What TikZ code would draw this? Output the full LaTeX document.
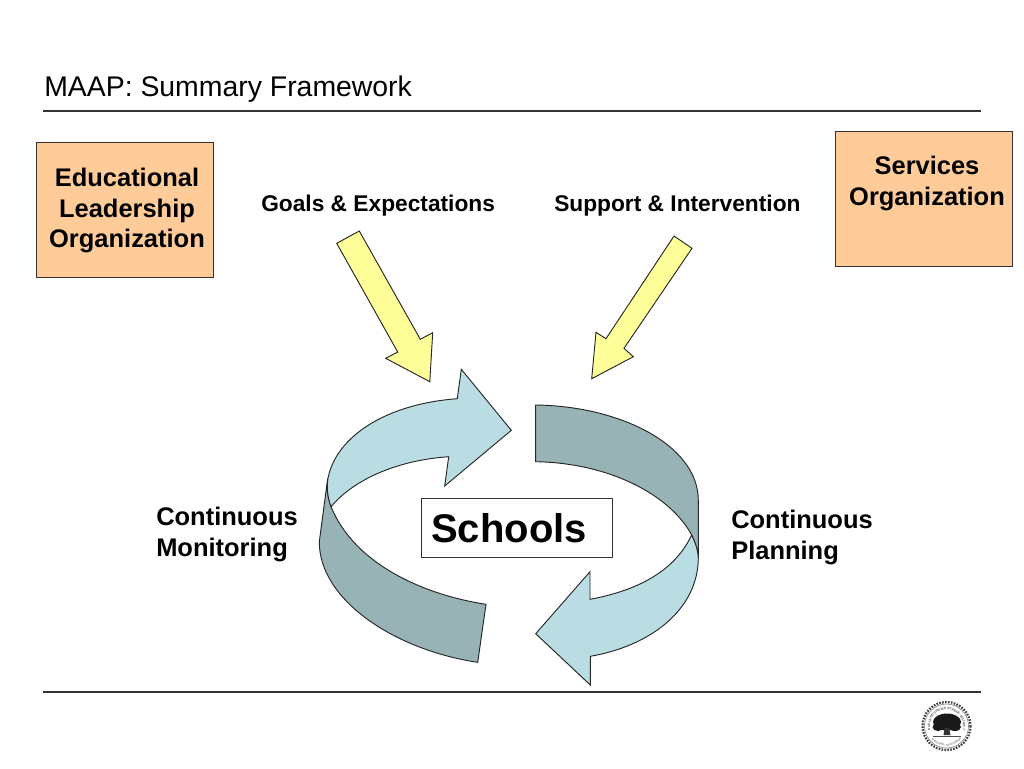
\documentclass[tikz,border=0pt]{standalone}
\usepackage{fontspec}
\setmainfont{Liberation Sans}
\usetikzlibrary{decorations.text}
\newdimen\px \px=0.75pt
\newcommand{\fsz}[1]{\fontsize{#1}{#1}\selectfont}
\definecolor{orgfill}{HTML}{FFCC99}
\definecolor{arrowyellow}{HTML}{FFFF99}
\definecolor{lightteal}{HTML}{B9DDE3}
\definecolor{darkteal}{HTML}{97B3B6}
\definecolor{rulegray}{HTML}{333333}
\tikzset{
  x=0.75pt,y=-0.75pt,
  orgbox/.style={draw=rulegray,line width=0.7pt,fill=orgfill,rectangle,inner sep=0pt,minimum width=177\px,minimum height=135\px},
  orglabel/.style={inner sep=0pt,align=center,font=\fontsize{19.1}{23.1}\selectfont\bfseries,text=black},
  keylabel/.style={inner sep=0pt,anchor=base west,font=\fsz{17.05}\bfseries,text=black},
  looplabel/.style={inner sep=0pt,anchor=base west,font=\fsz{19.1}\bfseries,text=black},
  yellowarrow/.style={draw=black!85,line width=0.7pt,fill=arrowyellow,line join=miter},
  lightpart/.style={draw=black!85,line width=0.7pt,fill=lightteal,line join=miter},
  darkpart/.style={draw=black!85,line width=0.7pt,fill=darkteal,line join=miter},
  rulestyle/.style={draw=rulegray,line width=0.9pt},
}
\begin{document}
\begin{tikzpicture}
\useasboundingbox (0,0) rectangle (1024,768);
\fill[white] (0,0) rectangle (1024,768);
% title and rules
\node[inner sep=0pt,anchor=base west,font=\fsz{21.3}] (title) at (44,96) {MAAP: Summary Framework};
\coordinate (tl) at (43,111); \coordinate (tr) at (981,111);
\coordinate (bl) at (43,692); \coordinate (br) at (981,692);
\draw[rulestyle] (tl) -- (tr);
\draw[rulestyle] (bl) -- (br);
% organisation boxes
\node[orgbox] (edu) at (124.5,209.5) {};
\node[orgbox] (svc) at (923.5,198.5) {};
\node[orglabel] (edulabel) at (127,210.5) {Educational\\Leadership\\Organization};
\node[orglabel] (svclabel) at (927,183.5) {Services\\Organization};
% top labels
\node[keylabel] (goals) at (261,211.5) {Goals \& Expectations};
\node[keylabel] (support) at (554,211.5) {Support \& Intervention};
% yellow arrows
\draw[yellowarrow] (336.7,243.3) -- (359.3,231) -- (420.3,339.3) -- (432.7,332.7) -- (429.8,381.7) -- (385.7,358.3) -- (397.7,352) -- cycle;
\draw[yellowarrow] (674,236) -- (692,248.3) -- (624,348.3) -- (633.3,356.7) -- (591.7,378.7) -- (596,332.3) -- (606,338.7) -- cycle;
% left loop
\draw[darkpart] (327.7,478.3) -- (319.3,541.7) .. controls (319,600) and (395,650) .. (477.7,662.3) -- (486,604.3) .. controls (425,595) and (355,565) .. (331,506.7) .. controls (328,498) and (326,488) .. cycle;
\draw[lightpart] (457.3,398.7) -- (461.3,369.3) -- (511.3,430.3) -- (444.7,486) -- (448.7,456.7) .. controls (400,460) and (355,478) .. (331,506.7) .. controls (328,498) and (326,488) .. (328.3,476.7) .. controls (337,437) and (385,404) .. cycle;
% right loop
\draw[darkpart] (535.7,405) .. controls (620,406) and (698,445) .. (698.3,500) -- (698.3,558) .. controls (698,550) and (695,542) .. (691.7,535) .. controls (670,495) and (610,463) .. (535.7,461.7) -- cycle;
\draw[lightpart] (590.3,656.3) -- (590.3,685) -- (535.7,633.7) -- (590,571.7) -- (590,599.3) .. controls (640,590) and (675,570) .. (691.7,535) .. controls (695,542) and (698,550) .. (698.3,558) .. controls (698,610) and (650,646) .. cycle;
% loop labels and centre
\node[looplabel] (mon1) at (156,525) {Continuous};
\node[looplabel] (mon2) at (156,556) {Monitoring};
\node[looplabel] (plan1) at (731,528) {Continuous};
\node[looplabel] (plan2) at (731,559) {Planning};
\node[draw=rulegray,line width=0.7pt,fill=white,inner sep=0pt,minimum width=191\px,minimum height=59\px] (schools) at (516.5,527.5) {};
\node[inner sep=0pt,anchor=base west,font=\fsz{30}\bfseries] (schoolstext) at (431,542) {Schools};
% seal
\coordinate (seal) at (946.5,726);
\draw[black!75,line width=1.7pt,dash pattern=on 1.2pt off 1pt] (seal) circle (24);
\draw[black!55,line width=0.4pt] (seal) circle (22);
\fill[black!90] (947,722) ellipse (14 and 8.5);
\fill[black!90] (938,727) ellipse (5.5 and 4);
\fill[black!90] (955,727) ellipse (6 and 4);
\fill[black!80] (944.5,728) -- (949,728) -- (950.5,735) -- (943.5,735) -- cycle;
\draw[black!70,line width=0.6pt] (933,736) -- (961,736);
\begin{scope}[shift={(seal)},x=0.75pt,y=0.75pt]
\path[postaction={decorate,decoration={text along path,text align=center,text={|\fontsize{2.4}{2.4}\selectfont\bfseries\color{black!65}|OAKLAND UNIFIED SCHOOL DISTRICT}}}]
  (200:16.5) arc[start angle=200,end angle=-20,radius=16.5];
\path[postaction={decorate,decoration={text along path,text align=center,text={|\fontsize{2.2}{2.2}\selectfont\color{black!65}|OAKLAND, CALIFORNIA}}}]
  (225:20) arc[start angle=225,end angle=315,radius=20];
\end{scope}
\end{tikzpicture}
\end{document}
